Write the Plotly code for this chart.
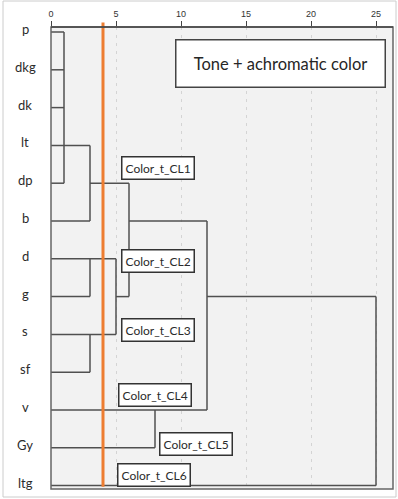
import plotly.graph_objects as go

# ---- data ----
leaves = ["p", "dkg", "dk", "lt", "dp", "b", "d", "g", "s", "sf", "v", "Gy", "ltg"]
leaf_len = [1, 1, 1, 3, 1, 3, 5, 3, 5, 3, 12, 8, 25]          # rescaled distance at which each leaf joins
v_links = [(1, 0, 4), (3, 3, 5), (3, 6, 7), (3, 8, 9), (5, 6, 8),
           (6, 4, 7), (12, 5, 10), (8, 10, 11), (25, 7, 12)]    # (distance, row from, row to)
h_links = [(4, 3, 6), (7, 5, 6), (5, 6, 12), (7, 12, 25)]       # (row, distance from, distance to)
cut_value = 4
tick_vals = [0, 5, 10, 15, 20, 25]
tick_text = ["0", "5", "10", "15", "20", "25"]
cluster_labels = ["Color_t_CL1", "Color_t_CL2", "Color_t_CL3", "Color_t_CL4", "Color_t_CL5", "Color_t_CL6"]
cluster_pos = [(5.42, 3.6), (5.38, 6.05), (5.38, 7.88), (5.15, 9.59), (8.31, 10.91), (5.08, 11.73)]
title_text = "Tone + achromatic color"

# ---- build segments ----
xs, ys = [], []
for i, L in enumerate(leaf_len):
    xs += [0, L, None]
    ys += [i, i, None]
for d, r0, r1 in v_links:
    xs += [d, d, None]
    ys += [r0, r1, None]
for r, d0, d1 in h_links:
    xs += [d0, d1, None]
    ys += [r, r, None]

W, H = 398, 499
L_M, R_M, T_M, B_M = 51, 5, 27, 10
pw, ph = W - L_M - R_M, H - T_M - B_M
px_per_unit = 13.0
row_px = 37.8
first_row_px = 32

x_range = [0, pw / px_per_unit]
y_top = (T_M - first_row_px) / row_px
y_bot = (H - B_M - first_row_px) / row_px

fig = go.Figure()
fig.add_trace(go.Scatter(x=xs, y=ys, mode="lines",
                         line=dict(color="#505050", width=1.5),
                         hoverinfo="skip", showlegend=False))

font_fam = "Lato, Open Sans, sans-serif"
annotations = []
for i, name in enumerate(leaves):
    annotations.append(dict(x=(25 - L_M) / pw, xref="paper", y=i - 0.08, yref="y",
                            text=name, showarrow=False, xanchor="center", yanchor="middle",
                            font=dict(size=13, color="#2b2b2b", family=font_fam)))
for lab, (cx, cy) in zip(cluster_labels, cluster_pos):
    annotations.append(dict(x=cx, y=cy, xref="x", yref="y", text=lab, showarrow=False,
                            xanchor="left", yanchor="middle",
                            font=dict(size=12, color="#2b2b2b", family=font_fam),
                            bgcolor="white", bordercolor="#333333", borderwidth=1.5, borderpad=3))
annotations.append(dict(x=(280 - L_M) / pw, y=(H - B_M - 63) / ph, xref="paper", yref="paper",
                        text=title_text, showarrow=False, xanchor="center", yanchor="middle",
                        width=206, height=44,
                        font=dict(size=16.5, color="#262626", family=font_fam),
                        bgcolor="white", bordercolor="#444444", borderwidth=1.5))

shapes = [
    dict(type="line", xref="x", yref="paper", x0=cut_value, x1=cut_value, y0=0.005, y1=1.01,
         line=dict(color="#ED7D31", width=3)),
    dict(type="rect", xref="paper", yref="paper", x0=0, x1=1, y0=0, y1=1,
         line=dict(color="#666666", width=1.5), layer="above"),
    dict(type="rect", xref="paper", yref="paper",
         x0=(3 - L_M) / pw, x1=(396 - L_M) / pw, y0=(H - B_M - 497) / ph, y1=(H - B_M - 1) / ph,
         line=dict(color="#cccccc", width=1)),
]

fig.update_layout(
    width=W, height=H,
    margin=dict(l=L_M, r=R_M, t=T_M, b=B_M),
    paper_bgcolor="white", plot_bgcolor="#F2F2F2",
    annotations=annotations, shapes=shapes,
    xaxis=dict(range=x_range, side="top", tickvals=tick_vals, ticktext=tick_text,
               ticks="outside", ticklen=5, tickcolor="#444444", tickwidth=1,
               tickfont=dict(size=9, color="#333333", family="Liberation Sans Narrow, Liberation Sans, sans-serif"),
               showline=False, zeroline=False,
               showgrid=True, gridcolor="#d4d4d4", gridwidth=1, griddash="3px,5px"),
    yaxis=dict(range=[y_bot, y_top], showticklabels=False, ticks="", showgrid=False,
               zeroline=False, showline=False),
)
fig.add_shape(type="line", xref="paper", yref="paper", x0=0, x1=1, y0=1, y1=1,
              line=dict(color="#444444", width=1.5))

fig.write_html("out.html")
